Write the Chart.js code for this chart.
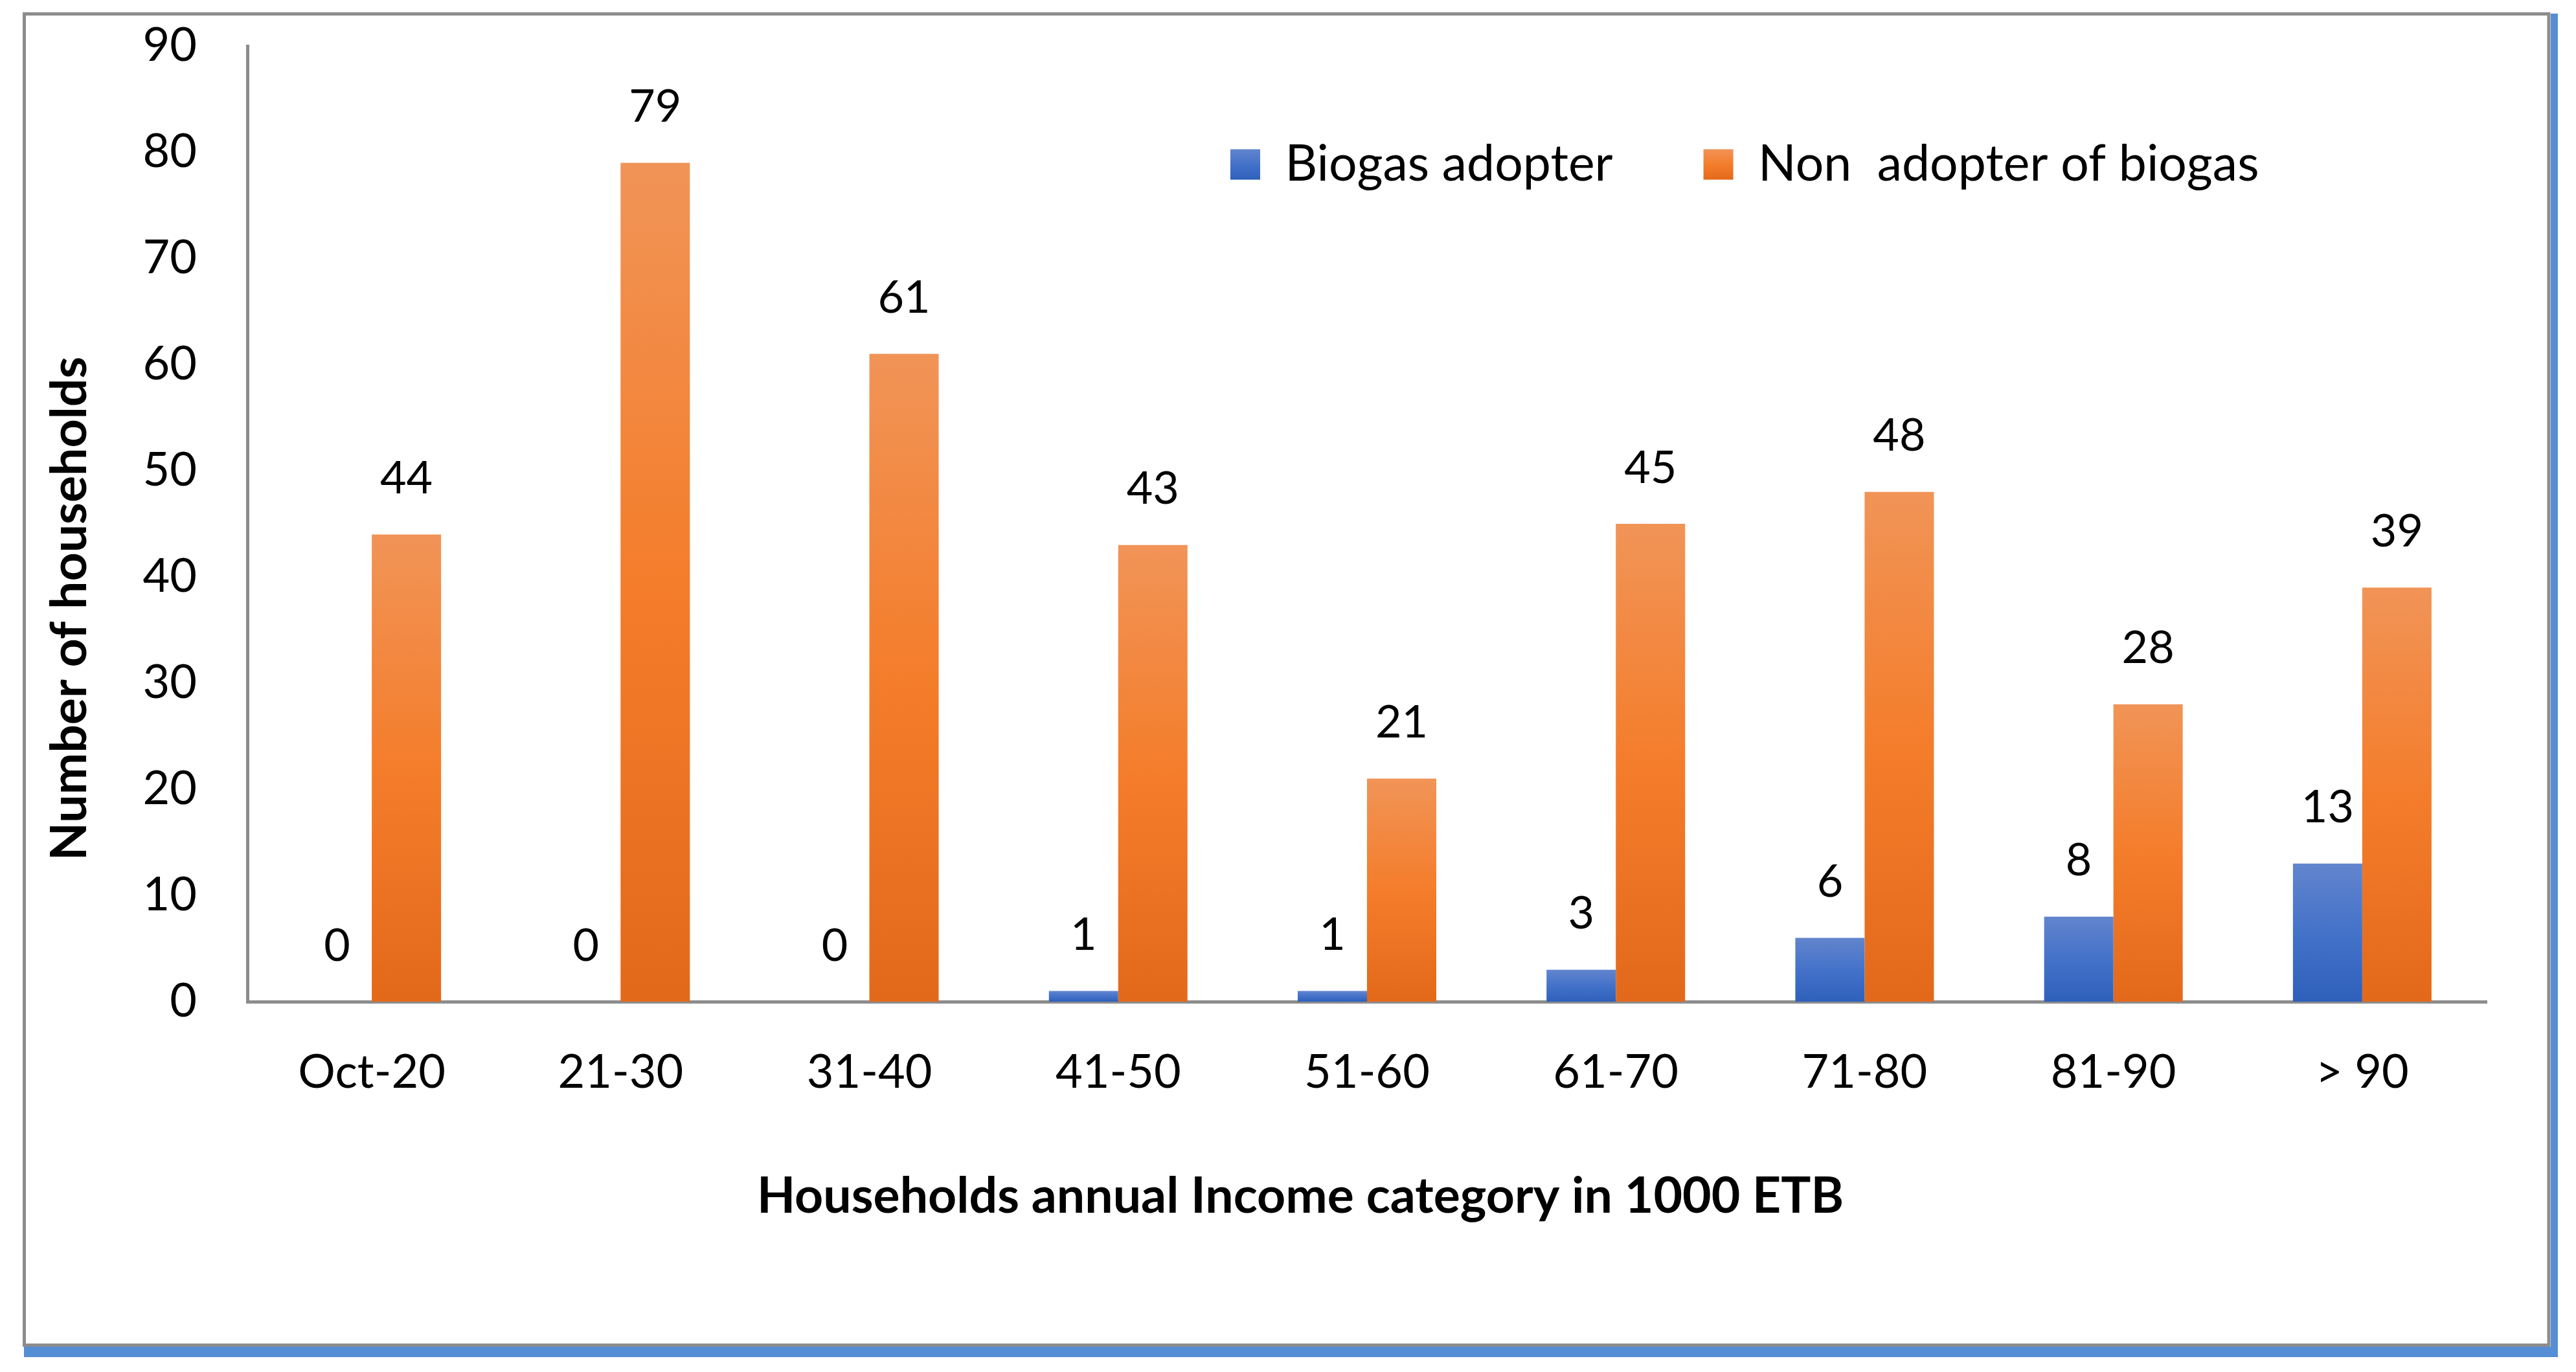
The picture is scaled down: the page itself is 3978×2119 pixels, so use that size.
<!DOCTYPE html>
<html>
<head>
<meta charset="utf-8">
<script src="https://cdn.jsdelivr.net/npm/chart.js@4.4.1/dist/chart.umd.min.js"></script>
<style>
html,body{margin:0;padding:0;background:#fff;overflow:hidden}
canvas{display:block}
</style>
</head>
<body>
<canvas id="c" width="3978" height="2119" style="width:3978px;height:2119px"></canvas>
<script>
// ---- data ----
const categories = ['Oct-20', '21-30', '31-40', '41-50', '51-60', '61-70', '71-80', '81-90', '> 90'];
const biogasAdopter = [0, 0, 0, 1, 1, 3, 6, 8, 13];
const nonAdopter = [44, 79, 61, 43, 21, 45, 48, 28, 39];
const seriesNames = ['Biogas adopter', 'Non  adopter of biogas'];
const yMin = 0, yMax = 90, yStep = 10;
const xTitle = 'Households annual Income category in 1000 ETB';
const yTitle = 'Number of households';

// ---- styles ----
const FONT = 'Lato, "Open Sans", "Noto Sans", sans-serif';
const BLUE_STOPS = [[0, '#6285CD'], [0.5, '#4472C9'], [1, '#2E60BB']];
const ORANGE_STOPS = [[0, '#F19457'], [0.5, '#F47D2B'], [1, '#E3691A']];
const AXIS_GREY = '#8C8C8C';

function makeGradient(ctx, y0, y1, stops) {
  const g = ctx.createLinearGradient(0, y0, 0, y1);
  stops.forEach(s => g.addColorStop(s[0], s[1]));
  return g;
}
function barFill(stops, fallback) {
  return (c) => {
    const chart = c.chart;
    if (c.type !== 'data' || !chart.chartArea || !chart.scales.y) return fallback;
    const ys = chart.scales.y;
    const top = ys.getPixelForValue(c.raw);
    const base = ys.getPixelForValue(0);
    if (!isFinite(top) || base - top < 1) return fallback;
    return makeGradient(chart.ctx, top, base, stops);
  };
}

const LEG_PAD = 140, LEG_FONT = 77, LEG_BOX_W = 46, LEG_BOX_H = 47;
const LEG_BOX_X = 1900, LEG_CENTER_Y = 254;

const framePlugin = {
  id: 'frame',
  beforeDraw(chart) {
    const ctx = chart.ctx;
    ctx.save();
    ctx.fillStyle = '#ffffff';
    ctx.fillRect(0, 0, chart.width, chart.height);
    ctx.fillStyle = '#558ED5';
    ctx.fillRect(3939, 21, 11, 2096 - 21);
    ctx.fillRect(37, 2080, 3950 - 37, 16);
    ctx.strokeStyle = AXIS_GREY;
    ctx.lineWidth = 5;
    ctx.strokeRect(37.5, 21.5, 3898.5, 2056);
    ctx.restore();
  }
};

const legendPlace = {
  id: 'legendPlace',
  afterLayout(chart) {
    const lg = chart.legend;
    if (!lg) return;
    const y = LEG_CENTER_Y - LEG_FONT / 2;
    lg.left = LEG_BOX_X - LEG_PAD;
    lg.right = chart.width;
    lg.top = y - LEG_PAD;
    lg.bottom = lg.top + 2 * LEG_PAD + LEG_FONT + 20;
  }
};

const valueLabels = {
  id: 'valueLabels',
  afterDatasetsDraw(chart) {
    const ctx = chart.ctx;
    ctx.save();
    ctx.font = '70px ' + FONT;
    ctx.fillStyle = '#000000';
    ctx.textAlign = 'center';
    ctx.textBaseline = 'middle';
    chart.data.datasets.forEach((ds, di) => {
      const meta = chart.getDatasetMeta(di);
      meta.data.forEach((el, i) => {
        ctx.fillText(String(ds.data[i]), el.x, el.y - 86);
      });
    });
    ctx.restore();
  }
};

const legendStops = [BLUE_STOPS, ORANGE_STOPS];

new Chart(document.getElementById('c'), {
  type: 'bar',
  data: {
    labels: categories,
    datasets: [
      { label: seriesNames[0], data: biogasAdopter, backgroundColor: barFill(BLUE_STOPS, '#4472C9'), borderWidth: 0 },
      { label: seriesNames[1], data: nonAdopter, backgroundColor: barFill(ORANGE_STOPS, '#F47D2B'), borderWidth: 0 }
    ]
  },
  options: {
    responsive: false,
    animation: false,
    devicePixelRatio: 1,
    layout: { padding: { top: 70, left: 40, right: 138, bottom: 40 } },
    datasets: { bar: { categoryPercentage: 0.557, barPercentage: 1.0 } },
    plugins: {
      tooltip: { enabled: false },
      title: { display: false },
      legend: {
        display: true,
        position: 'top',
        align: 'start',
        maxHeight: 1,
        labels: {
          color: '#000000',
          font: { family: FONT, size: LEG_FONT },
          boxWidth: LEG_BOX_W,
          boxHeight: LEG_BOX_H,
          padding: LEG_PAD,
          generateLabels(chart) {
            const items = Chart.defaults.plugins.legend.labels.generateLabels(chart);
            const boxTop = LEG_CENTER_Y - LEG_BOX_H / 2;
            items.forEach((it, i) => {
              it.fillStyle = makeGradient(chart.ctx, boxTop, boxTop + LEG_BOX_H, legendStops[i]);
              it.lineWidth = 0;
              it.strokeStyle = 'rgba(0,0,0,0)';
            });
            return items;
          }
        }
      }
    },
    scales: {
      x: {
        z: 1,
        grid: { display: false, drawTicks: false },
        border: { display: true, color: AXIS_GREY, width: 5 },
        ticks: {
          color: '#000000',
          font: { family: FONT, size: 72 },
          padding: 67,
          maxRotation: 0,
          minRotation: 0,
          autoSkip: false
        },
        title: {
          display: true,
          text: xTitle + '           ',
          color: '#000000',
          font: { family: FONT, size: 77, weight: 'bold' },
          padding: { top: 0, bottom: 185 }
        },
        afterFit(scale) { scale.height = 2119 - 40 - 1547; }
      },
      y: {
        min: yMin,
        max: yMax,
        grid: { display: false, drawTicks: false },
        border: { display: true, color: AXIS_GREY, width: 5 },
        ticks: {
          stepSize: yStep,
          color: '#000000',
          font: { family: FONT, size: 72 },
          padding: 78
        },
        title: {
          display: true,
          text: yTitle + '              ',
          color: '#000000',
          font: { family: FONT, size: 77, weight: 'bold' },
          padding: { top: 22, bottom: 0 }
        },
        afterFit(scale) {
          scale.width = 382 - 40;
          scale.paddingTop = 0;
          scale.paddingBottom = 0;
        }
      }
    }
  },
  plugins: [framePlugin, legendPlace, valueLabels]
});
</script>
</body>
</html>
